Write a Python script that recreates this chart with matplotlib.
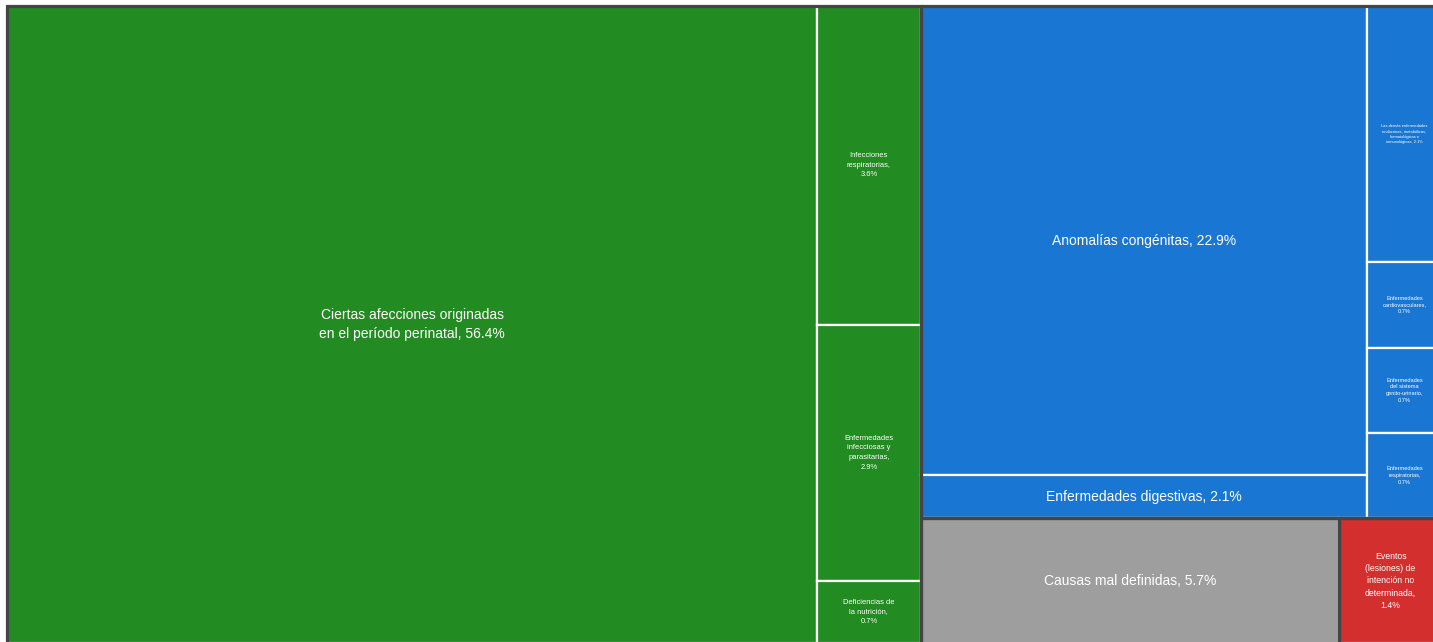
import matplotlib
matplotlib.use("Agg")
import matplotlib.pyplot as plt
from matplotlib.patches import Rectangle

# ---------------- data ----------------
group_names = ["Perinatal e infecciosas", "Anomalías y otras", "Mal definidas", "Lesiones"]
group_colors = ["#228B22", "#1976D2", "#9E9E9E", "#D32F2F"]

green_labels = [
    "Ciertas afecciones originadas\nen el período perinatal, 56.4%",
    "Infecciones\nrespiratorias,\n3.6%",
    "Enfermedades\ninfecciosas y\nparasitarias,\n2.9%",
    "Deficiencias de\nla nutrición,\n0.7%",
]
green_values = [56.4, 3.6, 2.9, 0.7]

blue_labels = [
    "Anomalías congénitas, 22.9%",
    "Enfermedades digestivas, 2.1%",
    "Las demás enfermedades\nendócrinas, metabólicas,\nhematológicas e\ninmunológicas, 2.1%",
    "Enfermedades\ncardiovasculares,\n0.7%",
    "Enfermedades\ndel sistema\ngenito-urinario,\n0.7%",
    "Enfermedades\nrespiratorias,\n0.7%",
]
blue_values = [22.9, 2.1, 2.1, 0.7, 0.7, 0.7]

gray_labels = ["Causas mal definidas, 5.7%"]
gray_values = [5.7]

red_labels = ["Eventos\n(lesiones) de\nintención no\ndeterminada,\n1.4%"]
red_values = [1.4]

# ---------------- layout helpers ----------------
def split(rect, vals, horizontal):
    x, y, w, h = rect
    tot = sum(vals)
    out = []
    pos = 0.0
    for v in vals:
        f = v / tot
        if horizontal:
            out.append((x + pos * w, y, f * w, h))
        else:
            out.append((x, y + pos * h, w, f * h))
        pos += f
    return out

W_PX, H_PX = 1433, 642
fig = plt.figure(figsize=(W_PX / 100, H_PX / 100), dpi=100, facecolor="white")
ax = fig.add_axes([0, 0, 1, 1])
ax.set_xlim(0, W_PX)
ax.set_ylim(H_PX, 0)
ax.axis("off")

area = (7, 6, 1435, 637)
gsum = [sum(green_values), sum(blue_values), sum(gray_values), sum(red_values)]

g_rect, rest_rect = split(area, [gsum[0], sum(gsum[1:])], True)
b_rect, bottom_rect = split(rest_rect, [gsum[1], gsum[2] + gsum[3]], False)
gr_rect, r_rect = split(bottom_rect, [gsum[2], gsum[3]], True)

cells = []  # (rect, label, color, style)
# green group
gbig, gcol = split(g_rect, [green_values[0], sum(green_values[1:])], True)
gcells = [gbig] + split(gcol, green_values[1:], False)
# blue group
bleft, bright = split(b_rect, [sum(blue_values[:2]), sum(blue_values[2:])], True)
bcells = split(bleft, blue_values[:2], False) + split(bright, blue_values[2:], False)

big = dict(fontsize=10, linespacing=1.45)
small_green = dict(fontsize=5.4, linespacing=1.55)
for i, (r, lab) in enumerate(zip(gcells, green_labels)):
    cells.append((r, lab, group_colors[0], big if i == 0 else small_green))
for i, (r, lab) in enumerate(zip(bcells, blue_labels)):
    if i < 2:
        st = big
    elif i == 2:
        st = dict(fontsize=2.9, linespacing=1.4)
    else:
        st = dict(fontsize=4.1, linespacing=1.45)
    cells.append((r, lab, group_colors[1], st))
cells.append((gr_rect, gray_labels[0], group_colors[2], big))
cells.append((r_rect, red_labels[0], group_colors[3], dict(fontsize=6.3, linespacing=1.45)))

# draw cells
for (x, y, w, h), lab, col, st in cells:
    ax.add_patch(Rectangle((x, y), w, h, facecolor=col, edgecolor="white", linewidth=1.6))
    ax.text(x + w / 2, y + h / 2, lab, ha="center", va="center", color="white",
            family=["Liberation Sans", "DejaVu Sans"], multialignment="center", **st)

# group borders
for (x, y, w, h) in [g_rect, b_rect, gr_rect, r_rect]:
    ax.add_patch(Rectangle((x, y), w, h, facecolor="none", edgecolor="#454545", linewidth=2.3))

fig.savefig("out.png", dpi=100, facecolor="white")
